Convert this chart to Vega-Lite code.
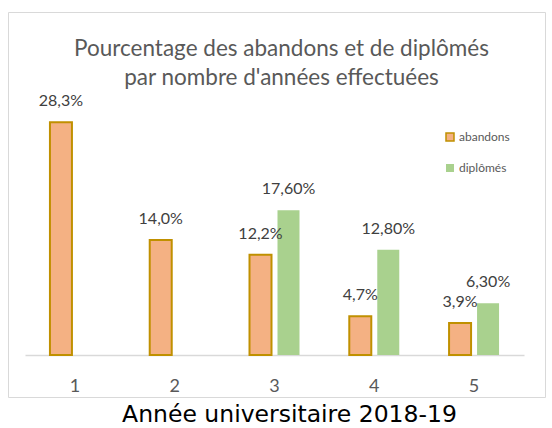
{
  "$schema": "https://vega.github.io/schema/vega-lite/v6.json",
  "width": 537,
  "height": 385,
  "autosize": {"type": "none"},
  "padding": {"left": 8, "top": 12, "right": 7, "bottom": 31},
  "background": "white",
  "config": {
    "view": {"stroke": "#D9D9D9", "strokeWidth": 1},
    "font": "Lato"
  },
  "title": {
    "text": ["Pourcentage des abandons et de diplômés", "par nombre d'années effectuées"],
    "font": "Lato",
    "fontSize": 22.5,
    "fontWeight": "normal",
    "color": "#595959",
    "lineHeight": 28.5,
    "anchor": "middle",
    "baseline": "top",
    "offset": -77,
    "dx": 5
  },
  "data": {
    "values": [
      {"annee": "1", "serie": "abandons", "valeur": 28.3, "label": "28,3%"},
      {"annee": "2", "serie": "abandons", "valeur": 14.0, "label": "14,0%"},
      {"annee": "3", "serie": "abandons", "valeur": 12.2, "label": "12,2%"},
      {"annee": "3", "serie": "diplômés", "valeur": 17.6, "label": "17,60%"},
      {"annee": "4", "serie": "abandons", "valeur": 4.7, "label": "4,7%"},
      {"annee": "4", "serie": "diplômés", "valeur": 12.8, "label": "12,80%"},
      {"annee": "5", "serie": "abandons", "valeur": 3.9, "label": "3,9%"},
      {"annee": "5", "serie": "diplômés", "valeur": 6.3, "label": "6,30%"}
    ]
  },
  "encoding": {
    "x": {
      "field": "annee",
      "type": "nominal",
      "scale": {"range": [17, 516], "paddingInner": 0.439, "paddingOuter": 0.22},
      "title": "Année universitaire 2018-19",
      "axis": {
        "orient": "bottom",
        "offset": -42,
        "domainColor": "#D9D9D9",
        "domainWidth": 1.5,
        "ticks": false,
        "labelAngle": 0,
        "labelFont": "Lato",
        "labelFontSize": 18,
        "labelColor": "#595959",
        "labelPadding": 22,
        "titleFont": "DejaVu Sans",
        "titleFontSize": 23.5,
        "titleFontWeight": "normal",
        "titleColor": "#000000",
        "titlePadding": 7,
        "titleX": 281
      }
    },
    "xOffset": {
      "field": "serie",
      "type": "nominal",
      "scale": {"domain": ["abandons", "diplômés"], "paddingInner": 0.214, "paddingOuter": 0.107}
    },
    "y": {
      "field": "valeur",
      "type": "quantitative",
      "scale": {"domain": [0, 30], "range": [343, 96.4], "nice": false},
      "axis": null
    }
  },
  "layer": [
    {
      "mark": {"type": "bar", "strokeWidth": 2},
      "encoding": {
        "color": {
          "field": "serie",
          "type": "nominal",
          "scale": {"domain": ["abandons", "diplômés"], "range": ["#F4B183", "#A9D18E"]},
          "legend": {
            "orient": "none",
            "legendX": 436,
            "legendY": 119,
            "title": null,
            "symbolType": "square",
            "symbolSize": 64,
            "symbolStrokeWidth": 1.5,
            "labelFont": "Lato",
            "labelFontSize": 12,
            "labelColor": "#595959",
            "labelOffset": 3,
            "rowPadding": 17,
            "padding": 0
          }
        },
        "stroke": {
          "field": "serie",
          "type": "nominal",
          "scale": {"domain": ["abandons", "diplômés"], "range": ["#C09000", "transparent"]}
        }
      }
    },
    {
      "mark": {"type": "text", "dy": -16, "baseline": "alphabetic", "font": "Lato", "fontSize": 16, "color": "#404040"},
      "encoding": {"text": {"field": "label", "type": "nominal"}}
    }
  ]
}
